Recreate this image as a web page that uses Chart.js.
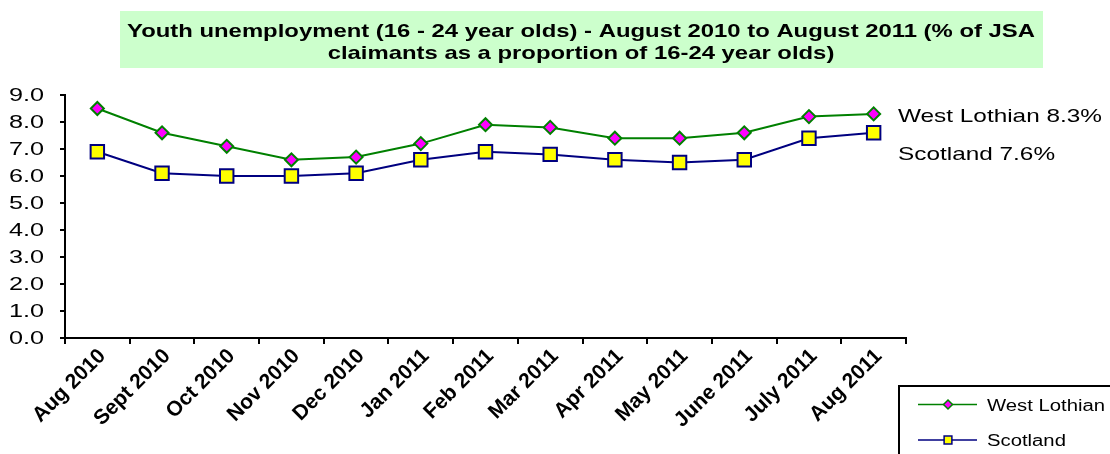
<!DOCTYPE html>
<html>
<head>
<meta charset="utf-8">
<script src="https://cdn.jsdelivr.net/npm/chart.js@4"></script>
<style>
  body { margin: 0; background: #fff; }
  #wrap { width: 1110px; height: 454px; }
</style>
</head>
<body>
<div id="wrap"><canvas id="chart" width="1110" height="454"></canvas></div>
<script>
const months = ["Aug 2010", "Sept 2010", "Oct 2010", "Nov 2010", "Dec 2010", "Jan 2011",
  "Feb 2011", "Mar 2011", "Apr 2011", "May 2011", "June 2011", "July 2011", "Aug 2011"];
const westLothian = [8.5, 7.6, 7.1, 6.6, 6.7, 7.2, 7.9, 7.8, 7.4, 7.4, 7.6, 8.2, 8.3];
const scotland = [6.9, 6.1, 6.0, 6.0, 6.1, 6.6, 6.9, 6.8, 6.6, 6.5, 6.6, 7.4, 7.6];
const titleLines = [
  "Youth unemployment (16 - 24 year olds) - August 2010 to August 2011 (% of JSA",
  "claimants as a proportion of 16-24 year olds)"
];

const FONT = '"Liberation Sans", Arial, sans-serif';

// the original text is drawn wide, so stretch it horizontally
function wideText(ctx, text, x, y, sx, align) {
  ctx.save();
  ctx.translate(x, y);
  ctx.scale(sx, 1);
  ctx.textAlign = align;
  ctx.fillText(text, 0, 0);
  ctx.restore();
}

const decor = {
  id: "decor",
  beforeDraw(chart) {
    const ctx = chart.ctx;
    ctx.save();
    ctx.fillStyle = "#ccffcc";
    ctx.fillRect(120, 11, 923, 57);
    ctx.fillStyle = "#000";
    ctx.font = "bold 19px " + FONT;
    ctx.textBaseline = "alphabetic";
    const sx = 908 / ctx.measureText(titleLines[0]).width;
    wideText(ctx, titleLines[0], 581, 37, sx, "center");
    wideText(ctx, titleLines[1], 581, 59, sx, "center");
    ctx.restore();
  },
  afterDraw(chart) {
    const ctx = chart.ctx;
    const ds = chart.data.datasets;
    ctx.save();
    ctx.fillStyle = "#000";

    // y tick labels
    const y = chart.scales.y;
    ctx.font = "18px " + FONT;
    ctx.textBaseline = "middle";
    y.ticks.forEach(t => {
      wideText(ctx, t.value.toFixed(1), 44, y.getPixelForValue(t.value) + 1, 1.4, "right");
    });

    // labels at the end of the lines
    ctx.textBaseline = "alphabetic";
    ctx.font = "19px " + FONT;
    const endText = ds.map(d => d.label + " " + d.data[d.data.length - 1].toFixed(1) + "%");
    const sx = 204 / ctx.measureText(endText[0]).width;
    wideText(ctx, endText[0], 898, 122, sx, "left");
    wideText(ctx, endText[1], 898, 160, sx, "left");

    // legend box
    ctx.strokeStyle = "#000";
    ctx.lineWidth = 2;
    ctx.strokeRect(899, 386, 215, 72);
    ctx.font = "16px " + FONT;
    const rows = [404.5, 440];
    const sizes = [4.5, 5.5];
    ds.forEach((d, i) => {
      ctx.strokeStyle = d.borderColor;
      ctx.lineWidth = 1.5;
      ctx.beginPath();
      ctx.moveTo(918, rows[i]);
      ctx.lineTo(977, rows[i]);
      ctx.stroke();
      ctx.fillStyle = d.pointBackgroundColor;
      ctx.strokeStyle = d.pointBorderColor;
      Chart.helpers.drawPoint(ctx, { pointStyle: d.pointStyle, radius: sizes[i], borderWidth: 1.5, rotation: 0 }, 948, rows[i]);
      ctx.fillStyle = "#000";
      const tsx = 118 / ctx.measureText(ds[0].label).width;
      wideText(ctx, d.label, 987, rows[i] + 6, tsx, "left");
    });
    ctx.restore();
  }
};

new Chart(document.getElementById("chart"), {
  type: "line",
  data: {
    labels: months,
    datasets: [
      {
        label: "West Lothian",
        data: westLothian,
        borderColor: "#008000",
        borderWidth: 2,
        pointStyle: "rectRot",
        pointRadius: 6.5,
        pointBackgroundColor: "#ff00ff",
        pointBorderColor: "#008000",
        pointBorderWidth: 2,
        tension: 0
      },
      {
        label: "Scotland",
        data: scotland,
        borderColor: "#000080",
        borderWidth: 2,
        pointStyle: "rect",
        pointRadius: 9.5,
        pointBackgroundColor: "#ffff00",
        pointBorderColor: "#000080",
        pointBorderWidth: 2,
        tension: 0
      }
    ]
  },
  options: {
    responsive: false,
    animation: false,
    devicePixelRatio: 1,
    layout: { padding: { top: 95, right: 204, left: 0, bottom: 0 } },
    plugins: { legend: { display: false }, tooltip: { enabled: false } },
    scales: {
      x: {
        offset: true,
        grid: { offset: true, drawOnChartArea: false, drawTicks: true, tickLength: 6, color: "#000", lineWidth: 2 },
        border: { color: "#000", width: 2 },
        ticks: {
          color: "#000",
          font: { family: FONT, size: 21, weight: "bold" },
          minRotation: 45,
          maxRotation: 45,
          autoSkip: false,
          labelOffset: 5,
          padding: 0
        },
        afterFit(s) { s.height = 116; }
      },
      y: {
        min: 0,
        max: 9,
        ticks: { stepSize: 1, display: false },
        grid: { drawOnChartArea: false, drawTicks: true, tickLength: 5, color: "#000", lineWidth: 2 },
        border: { color: "#000", width: 2 },
        afterFit(s) { s.width = 65; }
      }
    }
  },
  plugins: [decor]
});
</script>
</body>
</html>
